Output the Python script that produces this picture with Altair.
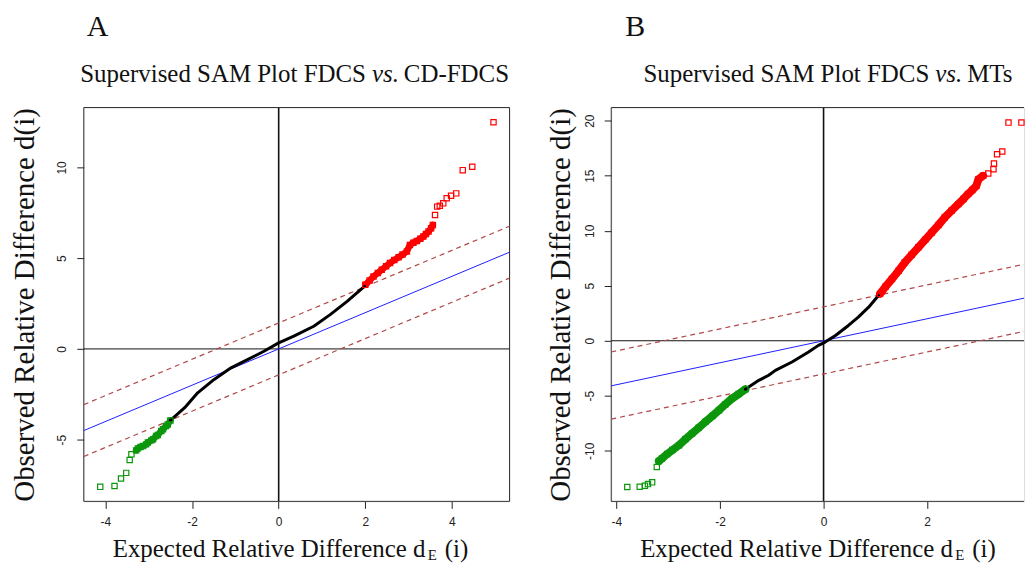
import altair as alt
import pandas as pd

# ---------------- data ----------------
# Panel A: FDCS vs CD-FDCS
A_green_x = [-4.12, -3.79, -3.64, -3.52, -3.44, -3.40, -3.29, -3.25, -3.19, -3.13, -3.06,
             -3.02, -2.94, -2.90, -2.83, -2.79, -2.71, -2.67, -2.60, -2.56, -2.50]
A_green_y = [-7.60, -7.55, -7.14, -6.83, -6.12, -5.81, -5.59, -5.48, -5.40, -5.35, -5.26,
             -5.16, -5.04, -4.98, -4.80, -4.74, -4.52, -4.43, -4.25, -4.16, -3.94]
A_black_x = [-2.50, -2.17, -1.87, -1.49, -1.10, -0.72, -0.34, 0.00, 0.35, 0.81, 1.19, 1.58, 1.98]
A_black_y = [-3.94, -3.24, -2.42, -1.68, -1.04, -0.59, -0.13, 0.33, 0.70, 1.25, 1.89, 2.62, 3.45]
A_red_x = [2.00, 2.10, 2.19, 2.29, 2.38, 2.48, 2.57, 2.67, 2.77, 2.86, 2.96, 3.03, 3.11, 3.19,
           3.27, 3.34, 3.40, 3.46, 3.52, 3.56, 3.61, 3.66, 3.72, 3.80, 3.88, 3.98, 4.10, 4.25,
           4.47, 4.96]
A_red_y = [3.53, 3.77, 3.99, 4.18, 4.36, 4.55, 4.73, 4.90, 5.05, 5.20, 5.37, 5.73, 5.85, 5.95,
           6.07, 6.19, 6.33, 6.47, 6.65, 6.83, 7.38, 7.84, 7.89, 8.02, 8.30, 8.44, 8.57, 9.85,
           10.04, 12.49]
A_ref_x = [-4.50, 5.33]
A_ref_y = [-4.50, 5.33]
A_up_y = [-3.07, 6.76]
A_lo_y = [-5.93, 3.90]

# Panel B: FDCS vs MTs
B_green_x = [-3.79, -3.55, -3.45, -3.39, -3.31, -3.22, -3.18, -3.12, -3.02, -2.92, -2.79,
             -2.67, -2.54, -2.41, -2.28, -2.15, -2.02, -1.90, -1.77, -1.64, -1.51]
B_green_y = [-13.30, -13.27, -13.18, -13.03, -12.87, -11.48, -10.94, -10.70, -10.30, -9.94, -9.49,
             -8.96, -8.43, -7.90, -7.37, -6.85, -6.32, -5.79, -5.26, -4.85, -4.41]
B_black_x = [-1.51, -1.25, -1.06, -0.93, -0.61, -0.29, -0.10, 0.03, 0.23, 0.48, 0.67, 0.87, 1.06]
B_black_y = [-4.41, -3.60, -3.14, -2.69, -1.93, -1.03, -0.42, -0.12, 0.48, 1.39, 2.15, 3.05, 4.11]
B_red_x = [1.09, 1.20, 1.32, 1.45, 1.57, 1.70, 1.83, 1.96, 2.09, 2.22, 2.34, 2.47, 2.60, 2.70,
           2.79, 2.87, 2.95, 2.99, 3.08, 3.18, 3.28, 3.29, 3.35, 3.45, 3.57, 3.82]
B_red_y = [4.26, 4.94, 5.62, 6.37, 7.13, 7.81, 8.49, 9.17, 9.85, 10.53, 11.21, 11.82, 12.42, 12.88,
           13.33, 13.70, 14.08, 14.69, 14.99, 15.20, 15.59, 16.11, 16.95, 17.20, 19.83, 19.83]
B_ref_x = [-4.10, 3.87]
B_ref_y = [-4.10, 3.87]
B_up_y = [-1.02, 6.95]
B_lo_y = [-7.12, 0.85]

A_xticks = [-4, -2, 0, 2, 4]
A_yticks = [-5, 0, 5, 10]
B_xticks = [-4, -2, 0, 2]
B_yticks = [-10, -5, 0, 5, 10, 15, 20]

SERIF = "Liberation Serif"
SANS = "Liberation Sans"
RED = "#ff0000"
GREEN = "#0c960c"
DASH = "#b04848"
W, H = 427, 395


def df(x, y):
    return pd.DataFrame({"x": x, "y": y})


def panel(letter, vs_right, green, black, red, dense_g, dense_r,
          ref_x, ref_y, up_y, lo_y, xdom, ydom, xticks, yticks, width,
          ytitle_x, letter_x, pre_x, vs_x, post_x, band_w, right_box):
    xs = alt.Scale(domain=xdom, nice=False, zero=False)
    ys = alt.Scale(domain=ydom, nice=False, zero=False)
    xa = alt.Axis(values=xticks, title=None, domain=False, grid=False, tickSize=7,
                  tickColor="#222", tickWidth=1, labelFont=SANS, labelFontSize=12,
                  labelColor="#222", labelPadding=8, labelFlush=False, labelOverlap=False,
                  labelExpr="'' + datum.value")
    ya = alt.Axis(values=yticks, title="Observed Relative Difference d(i)", titleFont=SERIF,
                  titleFontSize=29, titleFontWeight="normal", titleColor="#111",
                  titleAngle=270, titleX=ytitle_x, titleY=H / 2, titleAlign="center",
                  titleBaseline="alphabetic", domain=False, grid=False, tickSize=7,
                  tickColor="#222", tickWidth=1, labelFont=SANS, labelFontSize=12,
                  labelColor="#222", labelAngle=270, labelAlign="center",
                  labelBaseline="bottom", labelPadding=8, labelOverlap=False,
                  labelExpr="'' + datum.value")

    def X(f="x"):
        return alt.X(f"{f}:Q", scale=xs, axis=xa)

    def Y(f="y"):
        return alt.Y(f"{f}:Q", scale=ys, axis=ya)

    layers = []
    # zero lines
    layers.append(alt.Chart(pd.DataFrame({"v": [0]})).mark_rule(color="#111", strokeWidth=1)
                  .encode(y=Y("v")))
    layers.append(alt.Chart(pd.DataFrame({"v": [0]})).mark_rule(color="#111", strokeWidth=1.6)
                  .encode(x=X("v")))
    # box
    box_lines = [("y", ydom[0]), ("y", ydom[1]), ("x", xdom[0])]
    if right_box:
        box_lines.append(("x", xdom[1]))
    for ch, v in box_lines:
        c = alt.Chart(pd.DataFrame({"v": [v]})).mark_rule(color="#333", strokeWidth=1)
        layers.append(c.encode(y=Y("v")) if ch == "y" else c.encode(x=X("v")))
    # reference lines
    layers.append(alt.Chart(df(ref_x, ref_y)).mark_line(color="#1f1fff", strokeWidth=1, clip=True)
                  .encode(x=X(), y=Y()))
    for yy in (up_y, lo_y):
        layers.append(alt.Chart(df(ref_x, yy)).mark_line(color=DASH, strokeWidth=1.2,
                                                          strokeDash=[5, 4], clip=True)
                      .encode(x=X(), y=Y()))
    # dense bands
    gdf = df(*green)
    rdf = df(*red)
    layers.append(alt.Chart(gdf.iloc[dense_g[0]:dense_g[1]]).mark_line(
        color=GREEN, strokeWidth=band_w, strokeCap="round", strokeJoin="round")
        .encode(x=X(), y=Y(), order="x:Q"))
    layers.append(alt.Chart(rdf.iloc[dense_r[0]:dense_r[1]]).mark_line(
        color=RED, strokeWidth=band_w, strokeCap="round", strokeJoin="round")
        .encode(x=X(), y=Y(), order="x:Q"))
    layers.append(alt.Chart(df(*black)).mark_line(color="#000", strokeWidth=3.0,
                                                  strokeCap="round", strokeJoin="round")
                  .encode(x=X(), y=Y(), order="x:Q"))
    # squares
    layers.append(alt.Chart(gdf).mark_point(shape="square", filled=False, color=GREEN,
                                            size=28, strokeWidth=1.2, opacity=1)
                  .encode(x=X(), y=Y()))
    layers.append(alt.Chart(rdf).mark_point(shape="square", filled=False, color=RED,
                                            size=28, strokeWidth=1.2, opacity=1)
                  .encode(x=X(), y=Y()))

    # text annotations (titles)
    def txt(s, x, y, size, style="normal", align="left"):
        return alt.Chart(pd.DataFrame({"t": [s]})).mark_text(
            font=SERIF, fontSize=size, fontStyle=style, align=align, baseline="alphabetic",
            color="#111").encode(text="t:N", x=alt.value(x), y=alt.value(y))

    layers += [
        txt(letter, letter_x, -72, 30),
        txt("Supervised SAM Plot FDCS", pre_x, -26, 25, align="right"),
        txt("vs.", vs_x, -26, 25, style="italic"),
        txt(vs_right, post_x, -26, 25),
        txt("Expected Relative Difference d", 29, H + 56, 25),
        txt("E", 345, H + 59, 15),
        txt("(i)", 362, H + 56, 25),
    ]
    return alt.layer(*layers).properties(width=width, height=H)


A = panel("A", "CD-FDCS",
          (A_green_x, A_green_y), (A_black_x, A_black_y), (A_red_x, A_red_y),
          (6, 21), (0, 20), A_ref_x, A_ref_y, A_up_y, A_lo_y,
          [-4.5, 5.33], [-8.4, 13.3], A_xticks, A_yticks, W,
          -50, 3, 283, 289, 321, 6.5, True)
B = panel("B", "MTs",
          (B_green_x, B_green_y), (B_black_x, B_black_y), (B_red_x, B_red_y),
          (6, 21), (0, 19), B_ref_x, B_ref_y, B_up_y, B_lo_y,
          [-4.1, 3.87], [-14.6, 21.2], B_xticks, B_yticks, 414,
          -42, 14, 319, 325, 357, 8, False)

chart = alt.hconcat(A, B, spacing=102, bounds="flush").properties(
    padding={"left": 2, "top": 2, "right": 0, "bottom": 0}
).configure_view(stroke=None).configure(background="white")

chart.save("out.html", embed_options={"renderer": "svg", "actions": False})
